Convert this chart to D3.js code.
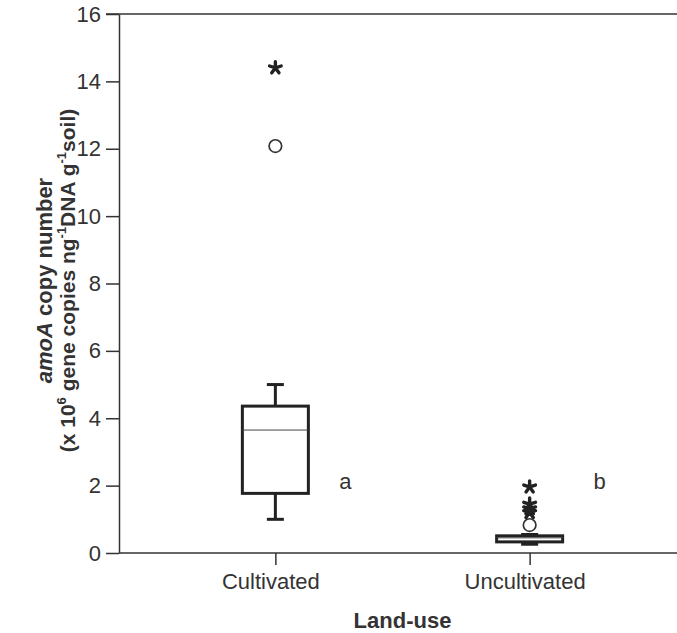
<!DOCTYPE html>
<html>
<head>
<meta charset="utf-8">
<script src="https://cdn.jsdelivr.net/npm/d3@7"></script>
<style>
  body { margin: 0; background: #fff; }
  svg { display: block; font-family: "Liberation Sans", Arial, sans-serif; }
</style>
</head>
<body>
<div id="chart"></div>
<script>
// data
const groups = ["Cultivated", "Uncultivated"];
const whiskerLow = [1.0, 0.26];
const q1 = [1.77, 0.33];
const medians = [3.65, 0.45];
const q3 = [4.36, 0.51];
const whiskerHigh = [5.0, 0.55];
const outlierCircles = [[12.08], [0.83]];
const outlierStars = [[14.4], [1.96, 1.45, 1.31, 1.2]];
const groupLetters = ["a", "b"];
const letterY = [2.1, 2.1];
const yTicks = [0, 2, 4, 6, 8, 10, 12, 14, 16];

const W = 677, H = 633;
const margin = { top: 14, left: 119, bottom: 80 };
const plotBottom = H - margin.bottom;
const plotRight = 686;

const svg = d3.select("#chart").append("svg")
  .attr("width", W).attr("height", H);

const y = d3.scaleLinear().domain([0, 16]).range([plotBottom, margin.top]);
const x = d3.scalePoint().domain(groups).range([margin.left, plotRight]).padding(0.615);

const axisColor = "#333";
const fontSize = "22px";

// five-armed asterisk like the SPSS extreme marker
const star5 = {
  draw(ctx, size) {
    const r = Math.sqrt(size) / 2;
    for (let k = 0; k < 5; k++) {
      const a = -Math.PI / 2 + k * 2 * Math.PI / 5;
      ctx.moveTo(0, 0);
      ctx.lineTo(r * Math.cos(a), r * Math.sin(a));
    }
  }
};

// frame top line
svg.append("line")
  .attr("x1", margin.left - 13).attr("x2", plotRight)
  .attr("y1", y(16)).attr("y2", y(16))
  .attr("stroke", axisColor).attr("stroke-width", 1.5);

// y axis
const yAxis = svg.append("g")
  .attr("transform", `translate(${margin.left},0)`)
  .call(d3.axisLeft(y).tickValues(yTicks).tickSize(13).tickPadding(5).tickSizeOuter(0));
yAxis.select(".domain").attr("stroke", axisColor).attr("stroke-width", 1.5);
yAxis.selectAll(".tick line").attr("stroke", axisColor).attr("stroke-width", 1.5);
yAxis.selectAll(".tick text").attr("fill", "#333").style("font-size", fontSize);

// x axis
const xAxis = svg.append("g")
  .attr("transform", `translate(0,${plotBottom})`)
  .call(d3.axisBottom(x).tickSize(12).tickPadding(8).tickSizeOuter(0));
xAxis.select(".domain").attr("stroke", axisColor).attr("stroke-width", 1.5)
  .attr("d", `M${margin.left},0H${plotRight}`);
xAxis.selectAll(".tick line").attr("stroke", axisColor).attr("stroke-width", 1.5);
xAxis.selectAll(".tick text").attr("fill", "#333").attr("dx", -5).style("font-size", fontSize);

// axis titles
svg.append("text")
  .attr("x", (margin.left + plotRight) / 2).attr("y", 628)
  .attr("text-anchor", "middle")
  .style("font-size", fontSize).style("font-weight", "bold").attr("fill", "#333")
  .text("Land-use");

const yt = svg.append("g")
  .attr("transform", `translate(0,${(y(0) + y(16)) / 2 - 3}) rotate(-90)`);
const l1 = yt.append("text")
  .attr("x", 0).attr("y", 52)
  .attr("text-anchor", "middle")
  .style("font-size", fontSize).style("font-weight", "bold").attr("fill", "#333");
l1.append("tspan").style("font-style", "italic").text("amoA");
l1.append("tspan").text(" copy number");

const l2 = yt.append("text")
  .attr("x", 0).attr("y", 75)
  .attr("text-anchor", "middle")
  .style("font-size", "21px").style("font-weight", "bold").attr("fill", "#333");
const sup = (t) => { l2.append("tspan").attr("dy", -9).style("font-size", "13px").text(t); };
const base = (t, first) => { l2.append("tspan").attr("dy", first ? 0 : 9).text(t); };
base("(x 10", true); sup("6");
base(" gene copies ng"); sup("-1");
base("DNA g"); sup("-1");
base("soil)");

// boxplots
const boxW = 66, capW = 17, ink = "#222";
groups.forEach((gName, i) => {
  const cx = x(gName);
  const g = svg.append("g");

  // whiskers
  g.append("line").attr("x1", cx).attr("x2", cx)
    .attr("y1", y(q3[i])).attr("y2", y(whiskerHigh[i]))
    .attr("stroke", ink).attr("stroke-width", 3);
  g.append("line").attr("x1", cx).attr("x2", cx)
    .attr("y1", y(q1[i])).attr("y2", y(whiskerLow[i]))
    .attr("stroke", ink).attr("stroke-width", 3);
  [whiskerHigh[i], whiskerLow[i]].forEach(v => {
    g.append("line").attr("x1", cx - capW / 2).attr("x2", cx + capW / 2)
      .attr("y1", y(v)).attr("y2", y(v))
      .attr("stroke", ink).attr("stroke-width", 3);
  });

  // box
  g.append("rect")
    .attr("x", cx - boxW / 2).attr("width", boxW)
    .attr("y", y(q3[i])).attr("height", y(q1[i]) - y(q3[i]))
    .attr("fill", "#fff").attr("stroke", ink).attr("stroke-width", 3);
  g.append("line")
    .attr("x1", cx - boxW / 2).attr("x2", cx + boxW / 2)
    .attr("y1", y(medians[i])).attr("y2", y(medians[i]))
    .attr("stroke", "#444").attr("stroke-width", 1);

  // outliers
  outlierCircles[i].forEach(v => {
    g.append("circle").attr("cx", cx).attr("cy", y(v)).attr("r", 6.3)
      .attr("fill", "#fff").attr("stroke", "#333").attr("stroke-width", 1.7);
  });
  outlierStars[i].forEach(v => {
    g.append("path")
      .attr("transform", `translate(${cx},${y(v)})`)
      .attr("d", d3.symbol(star5, 150)())
      .attr("stroke", "#222").attr("stroke-width", 3.4)
      .attr("stroke-linecap", "round").attr("fill", "none");
  });

  // significance letter
  svg.append("text")
    .attr("x", cx + 70).attr("y", y(letterY[i]) + 7)
    .attr("text-anchor", "middle")
    .style("font-size", fontSize).attr("fill", "#333")
    .text(groupLetters[i]);
});
</script>
</body>
</html>
